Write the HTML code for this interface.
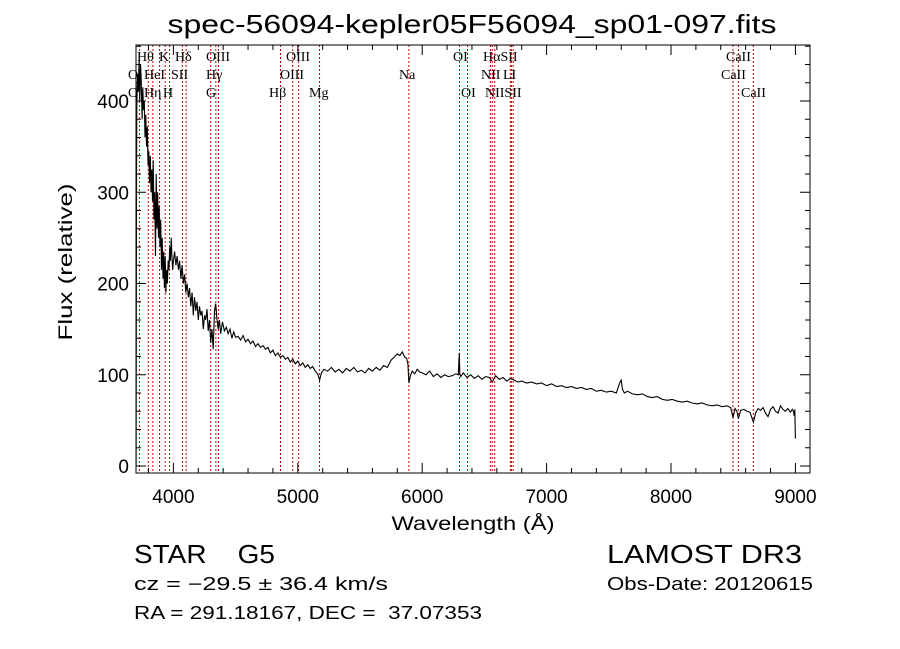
<!DOCTYPE html>
<html><head><meta charset="utf-8"><style>
html,body{margin:0;padding:0;background:#fff;}
svg{display:block;font-family:"Liberation Sans",sans-serif;}
text{white-space:pre;}
</style></head><body>
<svg id="chart" width="900" height="649" viewBox="0 0 900 649" xmlns="http://www.w3.org/2000/svg" xml:space="preserve">
<rect width="900" height="649" fill="#fff"/>
<text x="472" y="33" font-size="26" text-anchor="middle" textLength="609" lengthAdjust="spacingAndGlyphs">spec-56094-kepler05F56094_sp01-097.fits</text>
<g id="lines"></g>
<g id="labels" font-family="Liberation Serif,serif" font-size="14"></g>
<path id="spec" fill="none" stroke="#000" stroke-width="1.1" stroke-linejoin="miter"/>
<rect x="136" y="45" width="674" height="428" fill="none" stroke="#000" stroke-width="1"/>
<g id="axes"></g>
<text x="473" y="530" font-size="19" text-anchor="middle" textLength="163" lengthAdjust="spacingAndGlyphs">Wavelength (Å)</text>
<text transform="translate(72,262) rotate(-90)" font-size="19" text-anchor="middle" textLength="157" lengthAdjust="spacingAndGlyphs">Flux (relative)</text>
<text x="134" y="563" font-size="26" textLength="141" lengthAdjust="spacingAndGlyphs">STAR    G5</text>
<text x="607" y="563" font-size="26" textLength="195" lengthAdjust="spacingAndGlyphs">LAMOST DR3</text>
<text x="134" y="590" font-size="18" textLength="254" lengthAdjust="spacingAndGlyphs">cz = −29.5 ± 36.4 km/s</text>
<text x="607" y="590" font-size="18" textLength="206" lengthAdjust="spacingAndGlyphs">Obs-Date: 20120615</text>
<text x="134" y="619" font-size="18" textLength="348" lengthAdjust="spacingAndGlyphs">RA = 291.18167, DEC =  37.07353</text>
</svg>
<script>
const wavelengths=[3700,3703,3706,3712,3718,3724,3730,3736,3742,3748,3754,3760,3766,3772,3778,3784,3790,3796,3802,3808,3814,3820,3826,3832,3838,3844,3850,3856,3862,3868,3874,3880,3886,3892,3898,3904,3910,3916,3922,3928,3934,3940,3946,3952,3958,3964,3970,3976,3982,3988,3994,4000,4010,4020,4030,4040,4050,4060,4070,4080,4090,4100,4110,4120,4130,4140,4150,4160,4170,4180,4190,4200,4210,4220,4230,4240,4250,4260,4270,4280,4290,4300,4310,4320,4330,4340,4350,4360,4370,4380,4395,4410,4425,4440,4455,4470,4485,4500,4520,4540,4560,4580,4600,4620,4640,4660,4680,4700,4720,4740,4760,4780,4800,4820,4840,4860,4880,4900,4920,4940,4960,4980,5000,5020,5040,5060,5080,5100,5120,5140,5160,5175,5190,5210,5240,5270,5300,5330,5360,5390,5420,5450,5480,5510,5540,5570,5600,5630,5660,5690,5720,5750,5780,5800,5820,5840,5860,5875,5885,5893,5905,5920,5940,5960,5980,6000,6030,6060,6090,6120,6150,6180,6210,6240,6270,6290,6298,6302,6310,6330,6360,6390,6420,6450,6480,6510,6540,6563,6590,6620,6650,6680,6710,6740,6770,6800,6840,6880,6920,6960,7000,7040,7080,7120,7160,7200,7240,7280,7320,7360,7400,7440,7480,7520,7560,7590,7600,7610,7625,7650,7690,7730,7770,7810,7850,7890,7930,7970,8010,8050,8090,8130,8170,8210,8250,8290,8330,8370,8410,8450,8480,8498,8515,8530,8542,8560,8585,8610,8635,8662,8680,8700,8720,8740,8760,8780,8800,8820,8840,8860,8880,8900,8920,8940,8960,8975,8985,8990,8995,9000];
const fluxes=[0,300,395,430,410,445,400,440,420,380,415,390,400,360,385,350,372,330,345,310,340,300,325,290,335,270,300,230,320,260,300,250,285,240,270,215,250,205,235,195,230,190,215,200,225,215,240,225,250,230,215,225,235,220,230,215,225,205,220,200,210,190,200,185,195,175,190,165,185,170,180,160,175,165,170,150,165,160,172,148,160,135,150,128,170,178,162,150,160,145,158,148,152,145,150,140,147,141,142,138,143,136,139,134,137,131,134,130,132,128,130,124,127,121,124,119,121,117,119,114,117,112,115,110,113,108,111,107,109,104,101,94,102,106,104,108,103,106,102,107,104,108,103,105,102,107,104,108,105,110,108,116,120,123,121,125,119,118,112,91,99,104,101,106,103,102,100,104,98,101,97,100,98,99,101,100,124,101,98,102,97,100,96,99,95,98,97,92,99,95,97,93,96,94,92,93,91,92,90,91,88,90,87,88,86,87,85,86,84,85,82,83,81,82,80,92,94,84,80,82,79,78,79,76,75,76,73,72,73,71,70,71,69,68,69,67,66,67,65,66,64,53,63,60,52,61,62,60,59,48,58,63,61,64,58,54,62,65,60,58,66,62,60,63,59,62,60,55,62,30,8,0];
const lineWaves=[3727,3798,3835,3889,3934,3969,4072,4102,4300,4341,4363,4861,4959,5007,5175,5893,6300,6364,6548,6563,6583,6708,6717,6731,8498,8542,8662];
const labelText=["Hθ","K","Hδ","OIII","OIII","OI","HαSII","CaII","O","HeI","SII","Hγ","OIII","NII","LI","CaII","O","Hη","H","G","Hβ","Mg","Na","OI","NIISII","CaII"];
const labelX=[137,159,175,206,286,453,483,726,128,144,171,206,280,481,503,721,128,144,163,206,269,309,399,461,485,741];
const labelRow=[0,0,0,0,0,0,0,0,1,1,1,1,1,1,1,1,2,2,2,2,2,2,1,2,2,2];
const xTicks=[4000,5000,6000,7000,8000,9000];
const yTicks=[0,100,200,300,400];

const X=w=>173.4+(w-4000)*0.1244;
const Y=f=>466-f*0.9125;
const NS="http://www.w3.org/2000/svg";
function mk(tag,parent){const e=document.createElementNS(NS,tag);parent.appendChild(e);return e;}

let d="";
wavelengths.forEach((w,i)=>{d+=(i?"L":"M")+X(w).toFixed(1)+","+Y(fluxes[i]).toFixed(1);});
document.getElementById('spec').setAttribute('d',d);

const lg=document.getElementById('lines');
lineWaves.forEach(w=>{
  const l=mk('line',lg);
  
  
  l.setAttribute('x1',X(w));l.setAttribute('x2',X(w));
  l.setAttribute('y1',45);l.setAttribute('y2',473);
  l.setAttribute('stroke','#c00000');l.setAttribute('stroke-width','1');l.setAttribute('stroke-dasharray','2,2');
});
const lb=document.getElementById('labels');
labelText.forEach((t,i)=>{
  const e=mk('text',lb);
  
  
  e.setAttribute('x',labelX[i]);e.setAttribute('y',61+labelRow[i]*18);
  e.textContent=t;
});
const ax=document.getElementById('axes');
function tick(x1,y1,x2,y2){const l=mk('line',ax);
  
  
  l.setAttribute('x1',x1);l.setAttribute('y1',y1);l.setAttribute('x2',x2);l.setAttribute('y2',y2);l.setAttribute('stroke','#000');}
for(let w=3800;w<=9100;w+=200){const major=w%1000===0;const x=X(w);if(x<136||x>810)continue;
  tick(x,473,x,473-(major?10:5));tick(x,45,x,45+(major?10:5));}
for(let f=0;f<=460;f+=20){const major=f%100===0;const y=Y(f);if(y<45)continue;
  tick(136,y,136+(major?10:5),y);tick(810,y,810-(major?10:5),y);}
xTicks.forEach(w=>{const t=mk('text',ax);
  
  
  t.setAttribute('x',X(w));t.setAttribute('y',503);t.setAttribute('font-size','19');t.setAttribute('text-anchor','middle');t.textContent=w;});
yTicks.forEach(f=>{const t=mk('text',ax);
  
  
  t.setAttribute('x',129);t.setAttribute('y',Y(f)+7);t.setAttribute('font-size','19');t.setAttribute('text-anchor','end');t.textContent=f;});
</script>
</body></html>
